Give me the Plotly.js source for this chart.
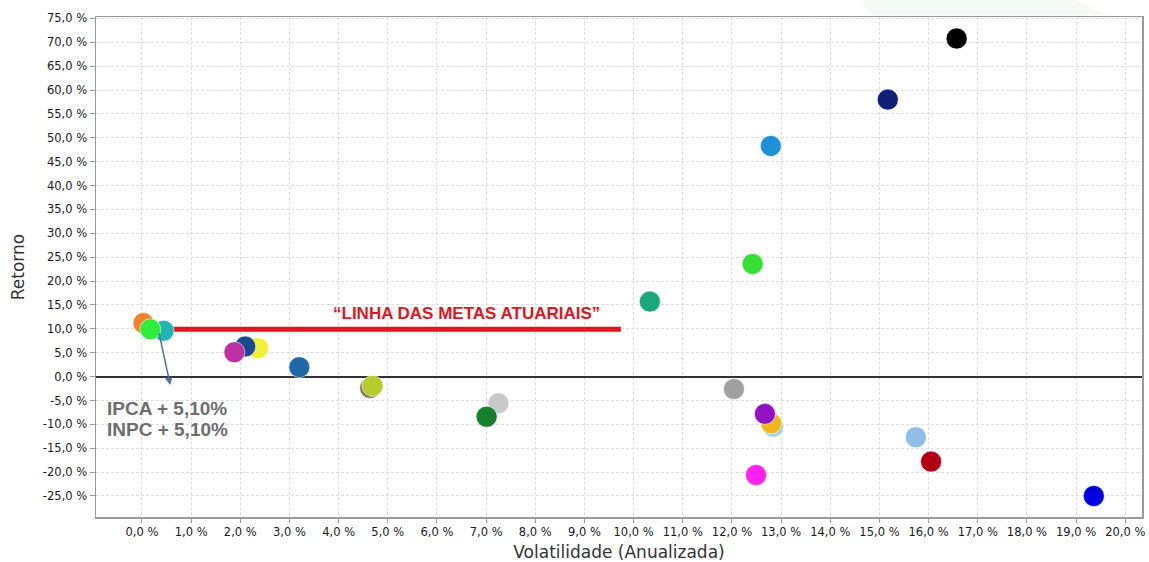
<!DOCTYPE html>
<html>
<head>
<meta charset="utf-8">
<script src="https://cdn.plot.ly/plotly-3.0.1.min.js"></script>
<style>html,body{margin:0;padding:0;background:#fff;}#chart{width:1149px;height:562px;}</style>
</head>
<body>
<div id="chart"></div>
<script>
// Volatility (annualized, %) and return (%) of each investment
const volatilidade = [0.03, 0.44, 0.17, 2.36, 2.10, 1.88, 3.20, 4.64, 4.69, 7.25, 7.01, 10.33, 12.04, 12.84, 12.80, 12.67, 12.49, 12.42, 12.79, 15.17, 16.57, 15.74, 16.05, 19.36];
const retorno      = [11.2, 9.6, 9.9, 5.95, 6.3, 5.1, 1.97, -2.4, -1.95, -5.6, -8.4, 15.7, -2.6, -10.5, -9.8, -7.8, -20.6, 23.6, 48.3, 58.0, 70.8, -12.7, -17.8, -25.0];
const cores = ['#F0822E', '#22B5B5', '#2EEE3A', '#F2F032', '#17498C', '#BE2FA0', '#1F67A7', '#8A7B55', '#B6CC2A', '#C9C9C9', '#15802C', '#19A879', '#A0A0A0', '#9FD7E2', '#F0B81A', '#9212C6', '#FF22EE', '#33E033', '#1E90D8', '#0D1F78', '#000000', '#8EBDE8', '#B00012', '#0000E0'];

// "Linha das metas atuariais"
const metaX = [0.17, 9.74];
const metaY = [9.9, 9.9];

const xTicks = [0,1,2,3,4,5,6,7,8,9,10,11,12,13,14,15,16,17,18,19,20];
const xTickText = ['0,0 %','1,0 %','2,0 %','3,0 %','4,0 %','5,0 %','6,0 %','7,0 %','8,0 %','9,0 %','10,0 %','11,0 %','12,0 %','13,0 %','14,0 %','15,0 %','16,0 %','17,0 %','18,0 %','19,0 %','20,0 %'];
const yTicks = [-25,-20,-15,-10,-5,0,5,10,15,20,25,30,35,40,45,50,55,60,65,70,75];
const yTickText = ['-25,0 %','-20,0 %','-15,0 %','-10,0 %','-5,0 %','0,0 %','5,0 %','10,0 %','15,0 %','20,0 %','25,0 %','30,0 %','35,0 %','40,0 %','45,0 %','50,0 %','55,0 %','60,0 %','65,0 %','70,0 %','75,0 %'];

const traces = [
  {
    x: metaX, y: metaY, type: 'scatter', mode: 'lines',
    line: {color: '#E8121C', width: 5}, hoverinfo: 'skip', showlegend: false
  },
  {
    x: volatilidade, y: retorno, type: 'scatter', mode: 'markers',
    marker: {size: 21, color: cores, line: {color: 'rgba(255,255,255,0.55)', width: 1}},
    showlegend: false
  }
];

const tickFont = {family: 'DejaVu Sans, Verdana, sans-serif', size: 11.5, color: '#1a1a1a'};
const layout = {
  width: 1149, height: 562,
  margin: {l: 96, r: 7, t: 17, b: 45},
  paper_bgcolor: '#ffffff', plot_bgcolor: '#ffffff',
  showlegend: false,
  xaxis: {
    range: [-0.935, 20.34], tickvals: xTicks, ticktext: xTickText, tickfont: tickFont,
    ticks: 'outside', ticklen: 4, tickcolor: '#999',
    showgrid: true, gridcolor: '#dedede', griddash: '3px,2px', gridwidth: 1,
    showline: true, linecolor: '#9a9a9a', linewidth: 1.5, mirror: true,
    zeroline: false,
    title: {text: 'Volatilidade (Anualizada)', font: {family: 'DejaVu Sans, sans-serif', size: 17, color: '#333'}, standoff: 8}
  },
  yaxis: {
    range: [-29.4, 75.3], tickvals: yTicks, ticktext: yTickText, tickfont: tickFont,
    ticks: 'outside', ticklen: 5, tickcolor: '#999',
    showgrid: true, gridcolor: '#dedede', griddash: '3px,2px', gridwidth: 1,
    showline: true, linecolor: '#9a9a9a', linewidth: 1.5, mirror: true,
    zeroline: true, zerolinecolor: '#333', zerolinewidth: 2,
    title: {text: 'Retorno', font: {family: 'DejaVu Sans, sans-serif', size: 17, color: '#333'}, standoff: 14}
  },
  shapes: [
    {type: 'path', xref: 'paper', yref: 'paper', path: 'M 0.73 1.034 L 0.935 1.034 L 0.968 1.004 L 0.742 1.004 Z', fillcolor: '#f4faf6', line: {width: 0}, layer: 'below'}
  ],
  annotations: [
    {x: 0.575, y: -1.76, ax: 0.34, ay: 9.4, xref: 'x', yref: 'y', axref: 'x', ayref: 'y', text: '', showarrow: true, arrowhead: 2, arrowsize: 1, arrowwidth: 1.5, arrowcolor: '#4E72A6'},
    {x: -0.746, y: -6.64, xref: 'x', yref: 'y', xanchor: 'left', yanchor: 'middle', showarrow: false, text: '<b>IPCA + 5,10%</b>', font: {family: 'Liberation Sans, Arial, sans-serif', size: 19, color: '#6E6E6E'}},
    {x: -0.746, y: -11.18, xref: 'x', yref: 'y', xanchor: 'left', yanchor: 'middle', showarrow: false, text: '<b>INPC + 5,10%</b>', font: {family: 'Liberation Sans, Arial, sans-serif', size: 19, color: '#6E6E6E'}},
    {x: 6.61, y: 13.25, xref: 'x', yref: 'y', xanchor: 'center', yanchor: 'middle', showarrow: false, text: '<b>\u201CLINHA DAS METAS ATUARIAIS\u201D</b>', font: {family: 'Liberation Sans, Arial, sans-serif', size: 17, color: '#E3141E'}}
  ]
};

Plotly.newPlot('chart', traces, layout, {displayModeBar: false, staticPlot: true});
</script>
</body>
</html>
